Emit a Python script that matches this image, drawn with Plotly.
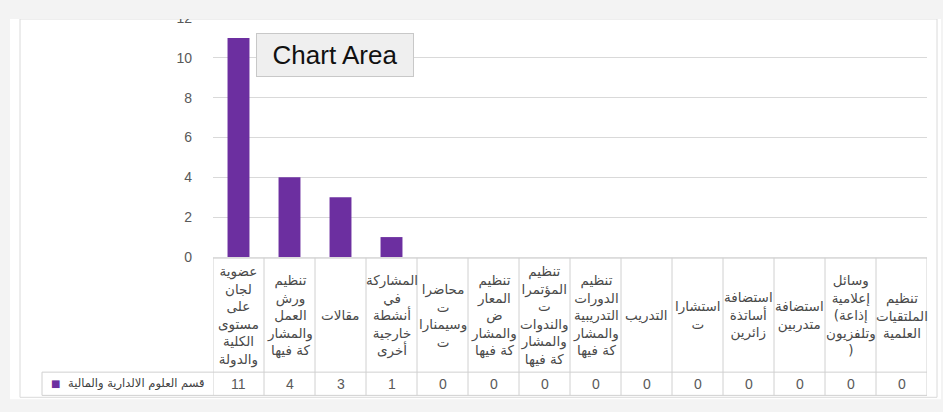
import plotly.graph_objects as go

# data (columns left to right)
categories = [
    "عضوية<br>لجان<br>على<br>مستوى<br>الكلية<br>والدولة",
    "تنظيم<br>ورش<br>العمل<br>والمشار<br>كة فيها",
    "مقالات",
    "المشاركة<br>في<br>أنشطة<br>خارجية<br>أخرى",
    "محاضرا<br>ت<br>وسيمنارا<br>ت",
    "تنظيم<br>المعار<br>ض<br>والمشار<br>كة فيها",
    "تنظيم<br>المؤتمرا<br>ت<br>والندوات<br>والمشار<br>كة فيها",
    "تنظيم<br>الدورات<br>التدريبية<br>والمشار<br>كة فيها",
    "التدريب",
    "استشارا<br>ت",
    "استضافة<br>أساتذة<br>زائرين",
    "استضافة<br>متدربين",
    "وسائل<br>إعلامية<br>(إذاعة<br>وتلفزيون<br>)",
    "تنظيم<br>الملتقيات<br>العلمية",
]
values = [11, 4, 3, 1, 0, 0, 0, 0, 0, 0, 0, 0, 0, 0]
series_name = "قسم العلوم الالدارية والمالية"
y_ticks = [0, 2, 4, 6, 8, 10, 12]

W, H = 943, 412
ML, MR, MT, MB = 213, 16, 10, 155
PW, PH = W - ML - MR, H - MT - MB
BAR = "#6c2fa0"
GRID = "#d9d9d9"
TXT = "#595959"


def px_x(p):
    # page pixel -> paper x
    return (p - ML) / PW


def px_y(p):
    # page pixel -> paper y
    return (H - MB - p) / PH


idx = list(range(len(categories)))

fig = go.Figure()
fig.add_trace(go.Bar(x=idx, y=values, name=series_name,
                     marker=dict(color=BAR, line=dict(width=0))))

shapes = []
# white chart area on grey page
shapes.append(dict(type="rect", xref="paper", yref="paper", layer="below",
                   x0=px_x(10), x1=px_x(941), y0=px_y(11), y1=px_y(404),
                   fillcolor="white", line=dict(width=0)))
shapes.append(dict(type="rect", xref="paper", yref="paper", layer="below",
                   x0=px_x(20), x1=px_x(937), y0=px_y(11), y1=px_y(402),
                   fillcolor="white", line=dict(color="#dadada", width=1)))
# grey strip at top hiding part of the chart (screenshot crop)
shapes.append(dict(type="rect", xref="paper", yref="paper", layer="above",
                   x0=px_x(0), x1=px_x(W), y0=px_y(0), y1=px_y(11),
                   fillcolor="#f3f3f3", line=dict(width=0)))

# data table lines
tbl_top, row_top, row_bot = 258, 376, 400
shapes.append(dict(type="line", xref="x", yref="paper", x0=-0.5, x1=len(idx) - 0.5,
                   y0=px_y(tbl_top), y1=px_y(tbl_top), line=dict(color="#bfbfbf", width=1)))
for yy in (row_top, row_bot):
    shapes.append(dict(type="line", xref="paper", yref="paper", x0=px_x(42),
                       x1=1, y0=px_y(yy), y1=px_y(yy), line=dict(color="#d0d0d0", width=1)))
for i in idx + [len(idx)]:
    shapes.append(dict(type="line", xref="x", yref="paper", x0=i - 0.5, x1=i - 0.5,
                       y0=px_y(tbl_top), y1=px_y(row_bot), line=dict(color="#d0d0d0", width=1)))
shapes.append(dict(type="line", xref="paper", yref="paper", x0=px_x(42), x1=px_x(42),
                   y0=px_y(row_top), y1=px_y(row_bot), line=dict(color="#d0d0d0", width=1)))

annotations = []
for i, (c, v) in enumerate(zip(categories, values)):
    annotations.append(dict(x=i, xref="x", y=px_y(317), yref="paper", text=c,
                            showarrow=False, xanchor="center", yanchor="middle",
                            font=dict(family="DejaVu Sans", size=13.5, color="#4a4a4a")))
    annotations.append(dict(x=i, xref="x", y=px_y(388), yref="paper", text=str(v),
                            showarrow=False, xanchor="center", yanchor="middle",
                            font=dict(family="Liberation Sans", size=14, color=TXT)))

# legend key cell
annotations.append(dict(x=px_x(206), xref="paper", y=px_y(388), yref="paper",
                        text=series_name, showarrow=False, xanchor="right", yanchor="middle",
                        font=dict(family="DejaVu Sans", size=11.5, color="#404040")))
annotations.append(dict(x=px_x(55), xref="paper", y=px_y(388), yref="paper",
                        text="■", showarrow=False, xanchor="center", yanchor="middle",
                        font=dict(family="DejaVu Sans", size=10, color=BAR)))

# "Chart Area" hover tip from the screenshot
annotations.append(dict(x=px_x(335), xref="paper", y=px_y(48), yref="paper",
                        text="Chart Area", showarrow=False, xanchor="center", yanchor="middle",
                        width=152, height=38, bgcolor="#efefef", bordercolor="#c8c8c8",
                        borderwidth=1, borderpad=2,
                        font=dict(family="Liberation Sans", size=26, color="#111111")))

fig.update_layout(
    width=W, height=H,
    margin=dict(l=ML, r=MR, t=MT, b=MB),
    paper_bgcolor="#f3f3f3",
    plot_bgcolor="rgba(0,0,0,0)",
    showlegend=False,
    bargap=0.57,
    xaxis=dict(range=[-0.5, len(idx) - 0.5], showticklabels=False, showgrid=False,
               zeroline=False, showline=False, ticks=""),
    yaxis=dict(range=[0, 12], tickvals=y_ticks, showgrid=True, gridcolor=GRID,
               zeroline=False, showline=False, ticks="", ticklabelstandoff=20,
               tickfont=dict(family="Liberation Sans", size=14, color=TXT)),
    shapes=shapes,
    annotations=annotations,
)

fig.write_html("out.html", config={"displayModeBar": False},
               post_script="document.body.style.margin='0';")
